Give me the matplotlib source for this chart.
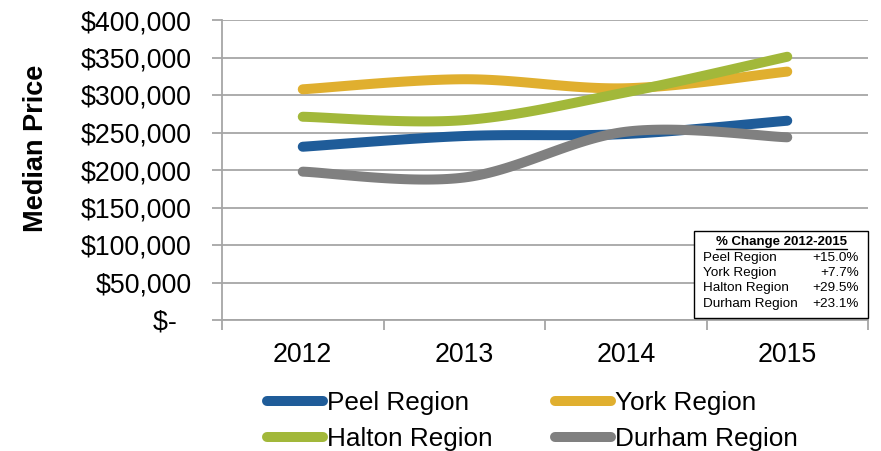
import numpy as np
import matplotlib
matplotlib.use("Agg")
import matplotlib.pyplot as plt
from matplotlib.ticker import FixedLocator

plt.rcParams['font.family'] = ['Liberation Sans', 'DejaVu Sans']
plt.rcParams['lines.solid_capstyle'] = 'round'

years = ["2012", "2013", "2014", "2015"]
peel = [231000, 245300, 248000, 265700]
york = [307600, 321000, 309000, 331200]
halton = [271000, 266500, 303500, 351000]
durham = [197800, 190000, 251000, 243600]
series_names = ["Peel Region", "York Region", "Halton Region", "Durham Region"]
series_colors = ["#1F5C99", "#E0AF2F", "#A2B83A", "#808080"]
pct_change = ["+15.0%", "+7.7%", "+29.5%", "+23.1%"]
y_ticks = [0, 50000, 100000, 150000, 200000, 250000, 300000, 350000, 400000]
y_labels = ["$-  ", "$50,000", "$100,000", "$150,000", "$200,000", "$250,000",
            "$300,000", "$350,000", "$400,000"]


def smooth(xs, ys, n=40):
    """Excel-like smoothed line: cubic Bezier with Catmull-Rom control points."""
    P = np.column_stack([xs, ys]).astype(float)
    ext = np.vstack([P[0], P, P[-1]])
    out = []
    t = np.linspace(0, 1, n)[:, None]
    for i in range(len(P) - 1):
        p0, p1, p2, p3 = ext[i], ext[i + 1], ext[i + 2], ext[i + 3]
        c1 = p1 + (p2 - p0) / 6.0
        c2 = p2 - (p3 - p1) / 6.0
        seg = ((1 - t) ** 3) * p1 + 3 * ((1 - t) ** 2) * t * c1 + 3 * (1 - t) * t ** 2 * c2 + t ** 3 * p2
        out.append(seg if i == 0 else seg[1:])
    out = np.vstack(out)
    return out[:, 0], out[:, 1]


fig = plt.figure(figsize=(8.81, 4.51), dpi=100)
ax = fig.add_axes([222 / 881, 1 - 320 / 451, (868 - 222) / 881, 300 / 451])

x = np.arange(len(years))
handles = []
for vals, name, col in zip([peel, york, halton, durham], series_names, series_colors):
    sx, sy = smooth(x, vals)
    h, = ax.plot(sx, sy, color=col, lw=7.2, label=name, solid_capstyle='round', zorder=3)
    handles.append(h)

ax.set_xlim(-0.5, len(years) - 0.5)
ax.set_ylim(0, 400000)

grid_col = "#A6A6A6"
ax.yaxis.set_major_locator(FixedLocator(y_ticks))
ax.set_yticklabels(y_labels)
ax.grid(axis='y', color=grid_col, lw=1.3, zorder=0)
ax.set_axisbelow(True)

ax.set_xticks(np.arange(len(years) + 1) - 0.5)
ax.set_xticklabels([""] * (len(years) + 1))
ax.set_xticks(x, minor=True)
ax.set_xticklabels(years, minor=True)
ax.tick_params(axis='x', which='minor', length=0, labelsize=19.3, pad=16)
ax.tick_params(axis='x', which='major', length=7, color=grid_col, width=1.3)
ax.tick_params(axis='y', length=7, color=grid_col, width=1.3, labelsize=19.3, pad=15)

for s in ['top', 'right']:
    ax.spines[s].set_visible(False)
for s in ['left', 'bottom']:
    ax.spines[s].set_color(grid_col)
    ax.spines[s].set_linewidth(1.3)

fig.text(36 / 881, 1 - 148 / 451, "Median Price", rotation=90, fontsize=19.5,
         fontweight='bold', ha='center', va='center')

# Inset table
box_l, box_r, box_t, box_b = 694, 868, 231, 318
rect = plt.Rectangle((box_l / 881, 1 - box_b / 451), (box_r - box_l) / 881,
                     (box_b - box_t) / 451, transform=fig.transFigure,
                     facecolor='white', edgecolor='black', lw=1.0, zorder=5)
fig.add_artist(rect)
fig.text(781 / 881, 1 - 242 / 451, "% Change 2012-2015", fontsize=9.5,
         fontweight='bold', ha='center', va='center', zorder=6)
fig.add_artist(plt.Line2D([716 / 881, 847 / 881], [1 - 249 / 451, 1 - 249 / 451],
                          transform=fig.transFigure, color='black', lw=1.0, zorder=6))
row_y = [258, 273, 288, 304]
for name, pc, yy in zip(series_names, pct_change, row_y):
    fig.text(703 / 881, 1 - yy / 451, name, fontsize=9.7, ha='left', va='center', zorder=6)
    fig.text(859 / 881, 1 - yy / 451, pc, fontsize=9.7, ha='right', va='center', zorder=6)

order = [0, 2, 1, 3]
fig.legend([handles[i] for i in order], [series_names[i] for i in order],
           loc='upper left', bbox_to_anchor=(267 / 881, 1 - 391 / 451), ncol=2,
           frameon=False, fontsize=18.8, handlelength=2.15, handletextpad=0.15,
           columnspacing=2.4, labelspacing=0.47, borderpad=0, borderaxespad=0)

fig.savefig("out.png", dpi=100)
